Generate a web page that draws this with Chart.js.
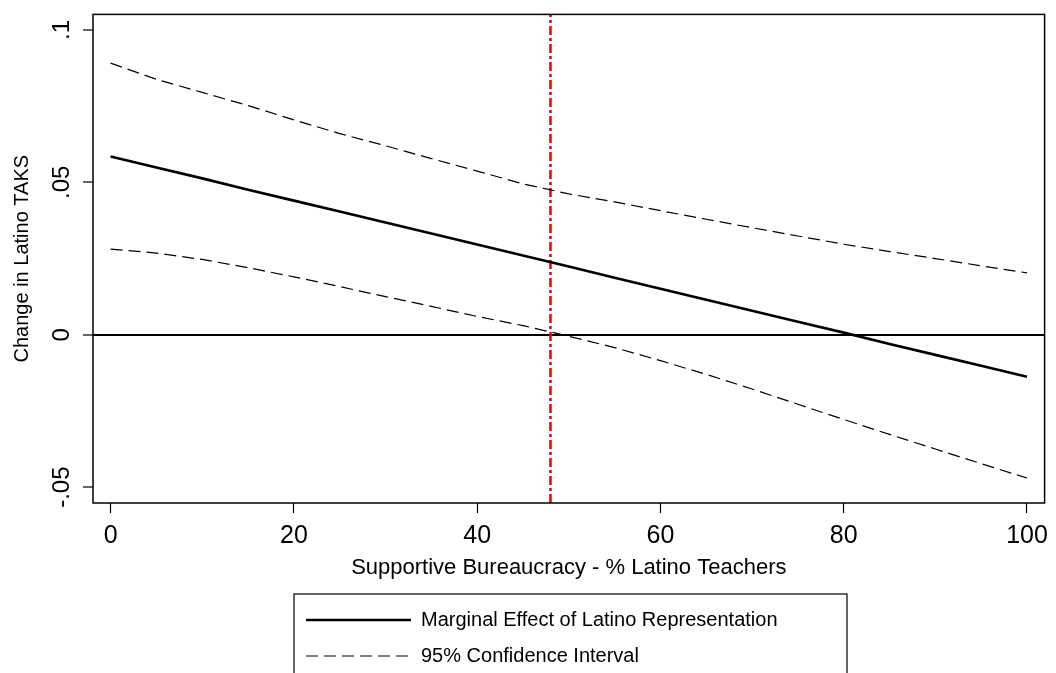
<!DOCTYPE html>
<html>
<head>
<meta charset="utf-8">
<title>Marginal Effect of Latino Representation</title>
<script src="https://cdn.jsdelivr.net/npm/chart.js@4.4.0/dist/chart.umd.min.js"></script>
<style>
    html, body { margin: 0; padding: 0; background: #fff; overflow: hidden; }
    #chart { display: block; }
</style>
</head>
<body>
<canvas id="chart" width="1056" height="676"></canvas>
<script>
(function () {
    "use strict";

    // Data
    var latinoTeachers = [0, 5, 10, 15, 20, 25, 30, 35, 40, 45, 50, 55, 60, 65, 70, 75, 80, 85, 90, 95, 100];
    var marginalEffect = [0.0585, 0.0549, 0.0513, 0.0476, 0.0440, 0.0404, 0.0368, 0.0332, 0.0296, 0.0260, 0.0224,
                          0.0187, 0.0151, 0.0115, 0.0079, 0.0043, 0.0007, -0.0030, -0.0066, -0.0102, -0.0138];
    var upperCI = [0.0891, 0.0838, 0.0795, 0.0752, 0.0705, 0.0660, 0.0620, 0.0578, 0.0537, 0.0495, 0.0462,
                   0.0436, 0.0407, 0.0379, 0.0351, 0.0324, 0.0297, 0.0273, 0.0250, 0.0226, 0.0203];
    var lowerCI = [0.0281, 0.0268, 0.0247, 0.0220, 0.0190, 0.0158, 0.0125, 0.0093, 0.0060, 0.0030, -0.0005,
                   -0.0042, -0.0085, -0.0130, -0.0178, -0.0228, -0.0278, -0.0327, -0.0375, -0.0423, -0.0470];
    var cutoff = [48];
    var xTicks = [0, 20, 40, 60, 80, 100];
    var yTicks = [-0.05, 0, 0.05, 0.1];
    var yTickLabels = ["-.05", "0", ".05", ".1"];
    var xRange = [-1.92, 101.92];
    var yRange = [-0.0552, 0.1051];

    var font = "'Liberation Sans', Arial, Helvetica, sans-serif";

    function points(ys) {
        return latinoTeachers.map(function (x, i) {
            return {x: x, y: ys[i]};
        });
    }


    // Legend as a narrow two-row box, and frames round plot and legend
    var frames = {
        id: "frames",
        beforeLayout: function (chart) {
            var legend = chart.legend;
            if (legend && !legend._narrow) {
                var update = legend.update;
                legend.update = function (maxWidth, maxHeight, margins) {
                    return update.call(this, Math.min(maxWidth, 560), maxHeight, margins);
                };
                legend._narrow = true;
            }
        },
        afterLayout: function (chart) {
            var legend = chart.legend;
            legend.left = 290;
            legend.right = 846;
            legend.width = 556;
        },
        afterDraw: function (chart) {
            var ctx = chart.ctx;
            var a = chart.chartArea;
            var lg = chart.legend;
            ctx.save();
            ctx.strokeStyle = "#000";
            ctx.lineWidth = 1.5;
            ctx.strokeRect(a.left, a.top, a.right - a.left, a.bottom - a.top);
            ctx.lineWidth = 1.2;
            ctx.strokeRect(lg.left + 4, lg.top, 553, 200);
            ctx.restore();
        }
    };


    var ctx = document.getElementById("chart").getContext("2d");
    var myChart = new Chart(ctx, {
        type: "line",
        data: {
            datasets: [{
                label: "Marginal Effect of Latino Representation",
                data: points(marginalEffect),
                borderColor: "#000",
                backgroundColor: "#000",
                borderWidth: 2.6
            }, {
                label: "95% Confidence Interval",
                data: points(upperCI),
                borderColor: "#000",
                backgroundColor: "#000",
                borderWidth: 1.2,
                borderDash: [12, 6]
            }, {
                label: "lower",
                data: points(lowerCI),
                borderColor: "#000",
                borderWidth: 1.2,
                borderDash: [12, 6]
            }, {
                label: "cutoff",
                data: [{x: cutoff[0], y: yRange[0]}, {x: cutoff[0], y: yRange[1]}],
                borderColor: "#ff0000",
                borderWidth: 2.6,
                borderDash: [9, 3, 3, 3]
            }]
        },
        options: {
            responsive: false,
            animation: false,
            events: [],
            layout: {
                padding: {top: 10, right: 8, bottom: 0, left: 0}
            },
            elements: {
                point: {radius: 0},
                line: {tension: 0, fill: false}
            },
            scales: {
                x: {
                    type: "linear",
                    min: xRange[0],
                    max: xRange[1],
                    afterBuildTicks: function (scale) {
                        scale.ticks = xTicks.map(function (v) { return {value: v}; });
                    },
                    afterFit: function (scale) {
                        scale.height = 91;
                    },
                    border: {display: false},
                    grid: {
                        color: "rgba(0,0,0,0)",
                        tickColor: "#000",
                        tickLength: 10,
                        tickWidth: 1.2
                    },
                    ticks: {
                        color: "#000",
                        padding: 8,
                        maxRotation: 0,
                        font: {family: font, size: 25}
                    },
                    title: {
                        display: true,
                        text: "Supportive Bureaucracy - % Latino Teachers",
                        color: "#000",
                        font: {family: font, size: 22},
                        padding: {top: 0, bottom: 13}
                    }
                },
                y: {
                    type: "linear",
                    min: yRange[0],
                    max: yRange[1],
                    afterBuildTicks: function (scale) {
                        scale.ticks = yTicks.map(function (v) { return {value: v}; });
                    },
                    afterFit: function (scale) {
                        scale.width = 93;
                    },
                    border: {display: false},
                    grid: {
                        color: function (c) {
                            return c.tick && c.tick.value === 0 ? "#000" : "rgba(0,0,0,0)";
                        },
                        lineWidth: 2,
                        tickColor: "#000",
                        tickLength: 10,
                        tickWidth: 1.2
                    },
                    ticks: {
                        color: "#000",
                        padding: 0,
                        minRotation: 90,
                        maxRotation: 90,
                        crossAlign: "center",
                        font: {family: font, size: 24},
                        callback: function (value, index) {
                            return yTickLabels[index];
                        }
                    },
                    title: {
                        display: true,
                        text: "Change in Latino TAKS",
                        color: "#000",
                        font: {family: font, size: 20},
                        padding: {top: 10, bottom: 0}
                    }
                }
            },
            plugins: {
                tooltip: {enabled: false},
                legend: {
                    display: true,
                    position: "bottom",
                    align: "start",
                    labels: {
                        color: "#000",
                        font: {family: font, size: 20},
                        padding: 16,
                        usePointStyle: true,
                        pointStyle: "line",
                        pointStyleWidth: 105,
                        filter: function (item) {
                            return item.datasetIndex < 2;
                        },
                        generateLabels: function (chart) {
                            var items = Chart.defaults.plugins.legend.labels.generateLabels(chart);
                            items.forEach(function (item) {
                                var ds = chart.data.datasets[item.datasetIndex];
                                item.lineDash = ds.borderDash || [];
                                item.lineWidth = ds.borderWidth;
                                item.strokeStyle = ds.borderColor;
                            });
                            return items;
                        }
                    }
                }
            }
        },
        plugins: [frames]
    });

})();
</script>
</body>
</html>
